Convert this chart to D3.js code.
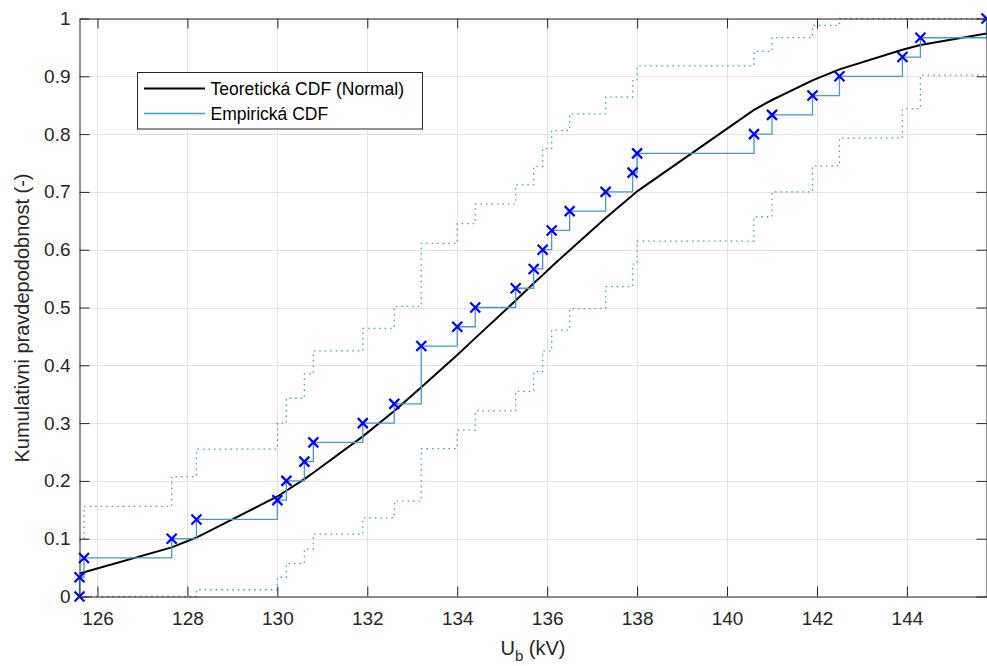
<!DOCTYPE html>
<html>
<head>
<meta charset="utf-8">
<title>CDF</title>
<script src="https://d3js.org/d3.v7.min.js"></script>
<style>
  body { margin: 0; background: #fff; }
  svg { display: block; font-family: "Liberation Sans", Arial, Helvetica, sans-serif; }
  .axis text { fill: #262626; font-size: 19px; font-family: "Liberation Sans", Arial, sans-serif; }
  .axis path, .axis line { stroke: #262626; }
</style>
</head>
<body>
<div id="chart"></div>
<script>
// unique measured values (kV), empirical CDF after each value
var ubValues = [125.6, 125.7, 127.65, 128.2, 130.0, 130.2, 130.6, 130.8, 131.9, 132.6,
                133.2, 134.0, 134.4, 135.3, 135.7, 135.9, 136.1, 136.5, 137.3, 137.9,
                138.0, 140.6, 141.0, 141.9, 142.5, 143.9, 144.3, 145.77];
var empF = [0.0333, 0.0667, 0.1, 0.1333, 0.1667, 0.2, 0.2333, 0.2667, 0.3, 0.3333,
            0.4333, 0.4667, 0.5, 0.5333, 0.5667, 0.6, 0.6333, 0.6667, 0.7, 0.7333,
            0.7667, 0.8, 0.8333, 0.8667, 0.9, 0.9333, 0.9667, 1.0];
var upperF = [0.0976, 0.156, 0.2074, 0.255, 0.300, 0.343, 0.385, 0.425, 0.464, 0.502,
              0.611, 0.645, 0.679, 0.712, 0.744, 0.775, 0.806, 0.835, 0.864, 0.892,
              0.918, 0.943, 0.967, 0.988, 1.0, 1.0, 1.0, 1.0];
var lowerF = [0, 0, 0, 0.0117, 0.0333, 0.0569, 0.082, 0.108, 0.136, 0.165,
              0.256, 0.288, 0.321, 0.355, 0.389, 0.425, 0.461, 0.498, 0.536, 0.575,
              0.615, 0.657, 0.700, 0.745, 0.793, 0.844, 0.902, 0.902];
// theoretical normal CDF read at the same values
var theoF = [0.040, 0.042, 0.085, 0.102, 0.173, 0.183, 0.203, 0.214, 0.277, 0.321,
             0.362, 0.418, 0.447, 0.512, 0.542, 0.556, 0.571, 0.599, 0.655, 0.694,
             0.701, 0.842, 0.859, 0.893, 0.912, 0.946, 0.954, 0.974];

var xTicks = [126, 128, 130, 132, 134, 136, 138, 140, 142, 144];
var yTicks = [0, 0.1, 0.2, 0.3, 0.4, 0.5, 0.6, 0.7, 0.8, 0.9, 1];
var legendLabels = ["Teoretická CDF (Normal)", "Empirická CDF"];

var W = 987, H = 666;
var pLeft = 79.5, pRight = 986.5, pTop = 18.5, pBottom = 596.5;
var blue = "#3f9bd9";

var svg = d3.select("#chart").append("svg").attr("width", W).attr("height", H);

var x = d3.scaleLinear().domain(d3.extent(ubValues)).range([pLeft, pRight]);
var y = d3.scaleLinear().domain([0, 1]).range([pBottom, pTop]);

// grid
var grid = svg.append("g").attr("stroke", "#e3e3e3").attr("stroke-width", 1);
grid.selectAll(".gx").data(xTicks).enter().append("line")
    .attr("x1", function(d){ return Math.round(x(d)) + 0.5; })
    .attr("x2", function(d){ return Math.round(x(d)) + 0.5; })
    .attr("y1", pTop).attr("y2", pBottom);
grid.selectAll(".gy").data(yTicks).enter().append("line")
    .attr("y1", function(d){ return Math.round(y(d)) + 0.5; })
    .attr("y2", function(d){ return Math.round(y(d)) + 0.5; })
    .attr("x1", pLeft).attr("x2", pRight);

var startPt = [[ubValues[0], 0]];
var empPts = startPt.concat(ubValues.map(function(v, i){ return [v, empF[i]]; }));
var upPts = ubValues.map(function(v, i){ return [v, upperF[i]]; });
var loPts = ubValues.map(function(v, i){ return [v, lowerF[i]]; });
var theoPts = ubValues.map(function(v, i){ return [v, theoF[i]]; });

var stair = d3.line()
    .x(function(d){ return x(d[0]); })
    .y(function(d){ return y(d[1]); })
    .curve(d3.curveStepAfter);
var straight = d3.line()
    .x(function(d){ return x(d[0]); })
    .y(function(d){ return y(d[1]); });

// confidence bounds
[upPts, loPts].forEach(function(pts){
  svg.append("path").attr("d", stair(pts))
     .attr("fill", "none").attr("stroke", blue).attr("stroke-width", 1.3)
     .attr("stroke-dasharray", "1.5,4");
});

// theoretical CDF
svg.append("path").attr("d", straight(theoPts))
   .attr("fill", "none").attr("stroke", "#000").attr("stroke-width", 2);

// empirical stairs
svg.append("path").attr("d", stair(empPts))
   .attr("fill", "none").attr("stroke", blue).attr("stroke-width", 1.3);

// markers
var ms = 5;
svg.append("g").selectAll("path").data(empPts).enter().append("path")
   .attr("d", function(d){
     var cx = x(d[0]), cy = y(d[1]);
     return "M" + (cx - ms) + "," + (cy - ms) + "L" + (cx + ms) + "," + (cy + ms) +
            "M" + (cx - ms) + "," + (cy + ms) + "L" + (cx + ms) + "," + (cy - ms);
   })
   .attr("stroke", "#0000ff").attr("stroke-width", 2.2).attr("fill", "none");

// axes (ticks inside, box on)
var fmtY = d3.format("~g");
svg.append("g").attr("class", "axis").attr("transform", "translate(0," + pBottom + ")")
   .call(d3.axisBottom(x).tickValues(xTicks).tickSizeInner(-10).tickSizeOuter(0).tickPadding(15));
svg.append("g").attr("class", "axis").attr("transform", "translate(0," + pTop + ")")
   .call(d3.axisTop(x).tickValues(xTicks).tickSizeInner(-10).tickSizeOuter(0).tickFormat(""));
svg.append("g").attr("class", "axis").attr("transform", "translate(" + pLeft + ",0)")
   .call(d3.axisLeft(y).tickValues(yTicks).tickSizeInner(-10).tickSizeOuter(0).tickPadding(9).tickFormat(fmtY));
svg.append("g").attr("class", "axis").attr("transform", "translate(" + pRight + ",0)")
   .call(d3.axisRight(y).tickValues(yTicks).tickSizeInner(-10).tickSizeOuter(0).tickFormat(""));
svg.selectAll(".axis .tick line").attr("stroke", "#262626");

// axis labels
var xl = svg.append("text").attr("x", (pLeft + pRight) / 2).attr("y", 655)
   .attr("text-anchor", "middle").attr("fill", "#262626").style("font-size", "20px");
xl.append("tspan").text("U");
xl.append("tspan").attr("dy", 6).style("font-size", "15px").text("b");
xl.append("tspan").attr("dy", -6).text(" (kV)");

svg.append("text").attr("transform", "translate(28.5,318) rotate(-90)")
   .attr("text-anchor", "middle").attr("fill", "#262626").style("font-size", "20px")
   .text("Kumulativni pravdepodobnost (-)");

// legend
var lg = svg.append("g");
lg.append("rect").attr("x", 137.5).attr("y", 72.5).attr("width", 285).attr("height", 56.5)
  .attr("fill", "#fff").attr("stroke", "#262626").attr("stroke-width", 1);
var legendStyles = [{c: "#000", w: 2}, {c: blue, w: 1.3}];
legendLabels.forEach(function(t, i){
  var ly = 88.5 + i * 25;
  lg.append("line").attr("x1", 144).attr("x2", 205).attr("y1", ly).attr("y2", ly)
    .attr("stroke", legendStyles[i].c).attr("stroke-width", legendStyles[i].w);
  lg.append("text").attr("x", 210.5).attr("y", ly).attr("dy", "0.35em")
    .attr("fill", "#000").style("font-size", "17.5px").text(t);
});
</script>
</body>
</html>
